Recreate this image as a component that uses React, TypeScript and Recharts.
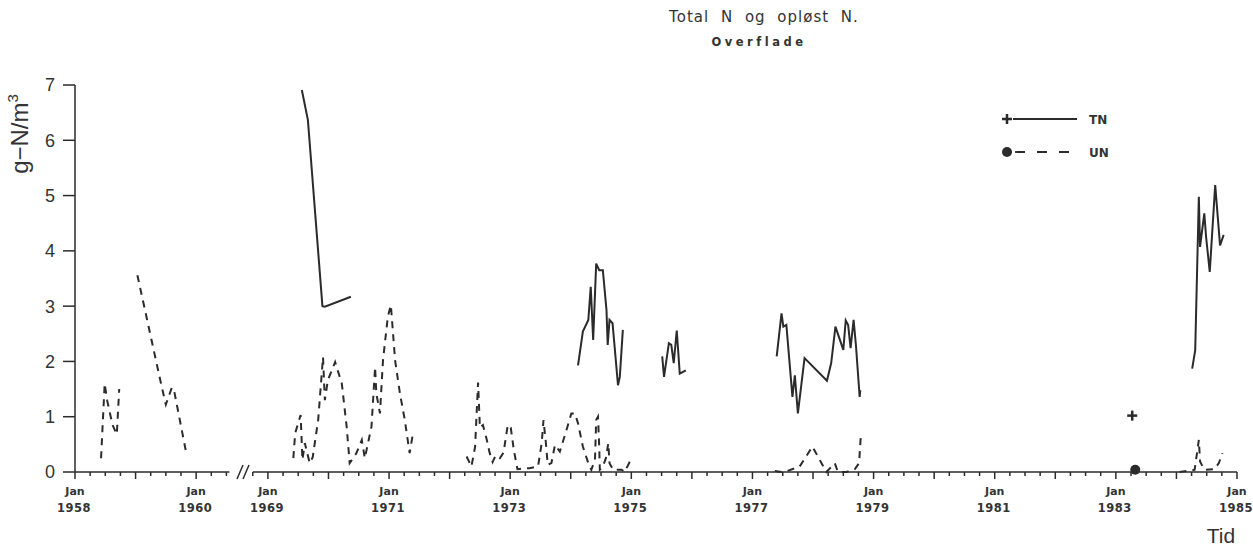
import React from 'react';
import {
  ComposedChart,
  Line,
  Scatter,
  XAxis,
  YAxis,
  ReferenceLine,
} from 'recharts';

// Time is stored as decimal years. The axis is broken between 1960 and 1968,
// so years are shifted onto one continuous axis coordinate (u).
const EARLY_START = 1958;
const LATE_SHIFT = 1965.815;
const toU = (t: number) => (t < 1965 ? t - EARLY_START : t - LATE_SHIFT);
const fromU = (u: number) => (u < 2.8 ? u + EARLY_START : u + LATE_SHIFT);

// axis pieces [from, to] in years
const axisPieces: [number, number][] = [
  [1958, 1960.55],
  [1968.75, 1985],
];
const tickPieces: [number, number][] = [
  [1958, 1960.5],
  [1968.75, 1985],
];
const labelYears = [1958, 1960, 1969, 1971, 1973, 1975, 1977, 1979, 1981, 1983, 1985];
const yTicks = [0, 1, 2, 3, 4, 5, 6, 7];

// TN (total N), g-N/m3, one array per continuous run
const tn1969: [number, number][] = [
  [1969.56, 6.91], [1969.66, 6.37], [1969.9, 3.0], [1969.94, 2.99], [1970.37, 3.17],
];
const tn1974: [number, number][] = [
  [1974.12, 1.93], [1974.2, 2.54], [1974.29, 2.75], [1974.33, 3.35], [1974.37, 2.39],
  [1974.42, 3.77], [1974.47, 3.65], [1974.53, 3.65], [1974.59, 2.93], [1974.61, 2.3],
  [1974.64, 2.75], [1974.69, 2.69], [1974.78, 1.57], [1974.81, 1.72], [1974.86, 2.57],
];
const tn1975: [number, number][] = [
  [1975.51, 2.09], [1975.54, 1.72], [1975.62, 2.33], [1975.66, 2.3], [1975.7, 1.97],
  [1975.75, 2.56], [1975.8, 1.78], [1975.9, 1.84],
];
const tn1977: [number, number][] = [
  [1977.4, 2.09], [1977.48, 2.87], [1977.51, 2.63], [1977.56, 2.66], [1977.66, 1.36],
  [1977.7, 1.75], [1977.75, 1.06], [1977.86, 2.06], [1978.23, 1.65], [1978.3, 1.97],
  [1978.37, 2.63], [1978.5, 2.21], [1978.54, 2.74], [1978.58, 2.66], [1978.62, 2.24],
  [1978.67, 2.75], [1978.71, 2.27], [1978.77, 1.36], [1978.78, 1.48],
];
const tn1984: [number, number][] = [
  [1984.26, 1.87], [1984.31, 2.2], [1984.37, 4.98], [1984.39, 4.07], [1984.46, 4.68],
  [1984.49, 4.25], [1984.55, 3.62], [1984.64, 5.19], [1984.72, 4.1], [1984.78, 4.29],
];
const tnSingle: [number, number][] = [[1983.27, 1.02]];

// UN (dissolved N), g-N/m3
const un1958: [number, number][] = [
  [1958.43, 0.25], [1958.49, 1.6], [1958.53, 1.3], [1958.62, 0.85], [1958.69, 0.68],
  [1958.73, 1.5],
];
const un1959: [number, number][] = [
  [1959.03, 3.56], [1959.43, 1.55], [1959.5, 1.22], [1959.6, 1.53], [1959.64, 1.45],
  [1959.83, 0.38],
];
const un1969: [number, number][] = [
  [1969.42, 0.25], [1969.45, 0.7], [1969.54, 1.03], [1969.57, 0.22], [1969.61, 0.52],
  [1969.69, 0.16], [1969.74, 0.27], [1969.83, 0.94], [1969.91, 2.08], [1969.94, 1.3],
  [1969.99, 1.66], [1970.11, 1.99], [1970.22, 1.6], [1970.3, 0.82], [1970.35, 0.16],
  [1970.46, 0.34], [1970.55, 0.58], [1970.6, 0.25], [1970.71, 0.82], [1970.77, 1.9],
  [1970.79, 1.42], [1970.85, 1.06], [1970.9, 2.02], [1970.98, 2.81], [1971.03, 3.02],
  [1971.1, 2.02], [1971.18, 1.42], [1971.26, 0.94], [1971.34, 0.34], [1971.39, 0.67],
];
const un1972: [number, number][] = [
  [1972.28, 0.28], [1972.36, 0.1], [1972.42, 0.45], [1972.47, 1.62], [1972.5, 0.8],
  [1972.55, 0.85], [1972.61, 0.6], [1972.66, 0.35], [1972.71, 0.18], [1972.76, 0.3],
  [1972.83, 0.25], [1972.89, 0.35], [1972.96, 0.85], [1973.01, 0.8], [1973.06, 0.4],
  [1973.12, 0.05], [1973.24, 0.07], [1973.32, 0.07], [1973.46, 0.1], [1973.52, 0.52],
  [1973.55, 0.94], [1973.59, 0.52], [1973.62, 0.13], [1973.68, 0.16], [1973.74, 0.49],
  [1973.82, 0.37], [1973.93, 0.76], [1974.01, 1.06], [1974.07, 1.06], [1974.12, 0.88],
  [1974.2, 0.46], [1974.29, 0.16], [1974.34, 0.04], [1974.4, 0.22], [1974.42, 0.94],
  [1974.45, 1.0], [1974.47, 0.46], [1974.48, 0.04], [1974.53, 0.1], [1974.58, 0.25],
  [1974.62, 0.52], [1974.64, 0.16], [1974.7, 0.04], [1974.84, 0.04], [1974.89, 0.0],
  [1974.99, 0.22],
];
const un1977: [number, number][] = [
  [1977.37, 0.02], [1977.48, 0.0], [1977.53, 0.0], [1977.78, 0.1], [1977.99, 0.46],
  [1978.11, 0.22], [1978.22, 0.0], [1978.36, 0.16], [1978.41, 0.0], [1978.55, 0.0],
  [1978.69, 0.05], [1978.76, 0.16], [1978.79, 0.67],
];
const un1984: [number, number][] = [
  [1984.05, 0.0], [1984.3, 0.04], [1984.32, 0.19], [1984.37, 0.58], [1984.39, 0.19],
  [1984.46, 0.04], [1984.63, 0.05], [1984.7, 0.16], [1984.76, 0.34],
];
const unSingle: [number, number][] = [[1983.32, 0.04]];

const INK = '#2b2b2b';
const U_END = toU(1985);

type Row = { u: number; v: number | null };

// join runs, with a null row between them so the line breaks
function joinRuns(runs: [number, number][][]): Row[] {
  const rows: Row[] = [];
  runs.forEach((run, i) => {
    if (i > 0) {
      const prev = runs[i - 1];
      const gapU = (toU(prev[prev.length - 1][0]) + toU(run[0][0])) / 2;
      rows.push({ u: gapU, v: null });
    }
    run.forEach(([t, v]) => rows.push({ u: toU(t), v }));
  });
  return rows;
}

const tnRows = joinRuns([tn1969, tn1974, tn1975, tn1977, tn1984]);
const unRows = joinRuns([un1958, un1959, un1969, un1972, un1977, un1984]);
const tnPoints = tnSingle.map(([t, v]) => ({ u: toU(t), v }));
const unPoints = unSingle.map(([t, v]) => ({ u: toU(t), v }));

const xTicks: number[] = [];
tickPieces.forEach(([a, b]) => {
  for (let t = a; t <= b + 1e-6; t += 0.25) xTicks.push(toU(t));
});

const TimeTick = (props: any) => {
  const { x, y, payload } = props;
  const year = Math.round(fromU(payload.value) * 4) / 4;
  const isJan = Math.abs(year - Math.round(year)) < 1e-6;
  const labelled = isJan && labelYears.includes(Math.round(year));
  return (
    <g>
      <line x1={x} x2={x} y1={y} y2={y + (isJan ? 7 : 4)} stroke={INK} strokeWidth={1.5} />
      {labelled && (
        <text
          x={x}
          y={y + 23}
          textAnchor="middle"
          fontFamily="DejaVu Sans"
          fontWeight="bold"
          fontSize={11}
          fill="#333"
        >
          Jan
        </text>
      )}
      {labelled && (
        <text
          x={x - 1}
          y={y + 40}
          textAnchor="middle"
          fontFamily="DejaVu Sans"
          fontWeight="bold"
          fontSize={11.5}
          letterSpacing={0.5}
          fill="#333"
        >
          {Math.round(year)}
        </text>
      )}
    </g>
  );
};

const PlusMark = (props: any) => {
  const { cx, cy } = props;
  return (
    <g stroke={INK} strokeWidth={2.5}>
      <line x1={cx - 5} x2={cx + 5} y1={cy} y2={cy} />
      <line x1={cx} x2={cx} y1={cy - 5} y2={cy + 5} />
    </g>
  );
};

const DotMark = (props: any) => {
  const { cx, cy } = props;
  return <circle cx={cx} cy={cy} r={5} fill={INK} />;
};

export default function App() {
  return (
    <div style={{ position: 'absolute', left: 0, top: 0, width: 1253, height: 547, background: '#fff' }}>
      <ComposedChart width={1253} height={547} margin={{ top: 85, right: 16, bottom: 0, left: 0 }}>
        <XAxis
          type="number"
          dataKey="u"
          domain={[0, U_END]}
          ticks={xTicks}
          interval={0}
          tick={<TimeTick />}
          tickLine={false}
          axisLine={false}
          tickSize={0}
          tickMargin={0}
          height={75}
          allowDataOverflow
        />
        <YAxis
          type="number"
          domain={[0, 7]}
          ticks={yTicks}
          width={75}
          interval={0}
          axisLine={{ stroke: INK, strokeWidth: 1.5 }}
          tickLine={{ stroke: INK, strokeWidth: 1.5 }}
          tickSize={12}
          tickMargin={8}
          tick={{ fill: '#333', fontSize: 18, fontFamily: 'Liberation Sans' }}
        />

        {/* broken time axis */}
        {axisPieces.map(([a, b]) => (
          <ReferenceLine
            key={a}
            segment={[
              { x: toU(a), y: 0 },
              { x: toU(b), y: 0 },
            ]}
            stroke={INK}
            strokeWidth={1.5}
            ifOverflow="visible"
          />
        ))}

        <Line
          data={unRows}
          dataKey="v"
          type="linear"
          stroke={INK}
          strokeWidth={2}
          strokeDasharray="7 6"
          dot={false}
          activeDot={false}
          connectNulls={false}
          isAnimationActive={false}
        />
        <Line
          data={tnRows}
          dataKey="v"
          type="linear"
          stroke={INK}
          strokeWidth={2}
          dot={false}
          activeDot={false}
          connectNulls={false}
          isAnimationActive={false}
        />
        <Scatter data={tnPoints} dataKey="v" shape={<PlusMark />} isAnimationActive={false} />
        <Scatter data={unPoints} dataKey="v" shape={<DotMark />} isAnimationActive={false} />
      </ComposedChart>

      {/* title, legend, axis names and the axis break */}
      <svg
        width={1253}
        height={547}
        style={{ position: 'absolute', left: 0, top: 0, pointerEvents: 'none' }}
      >
        <text x={764} y={22} textAnchor="middle" fontFamily="DejaVu Sans" fontWeight={500} fontSize={15} letterSpacing={1} wordSpacing={6} fill="#333">
          Total N og opløst N.
        </text>
        <text x={759} y={46} textAnchor="middle" fontFamily="DejaVu Sans" fontWeight="bold" fontSize={11.5} letterSpacing={3.5} fill="#333">
          Overflade
        </text>

        <g stroke={INK} strokeWidth={2.5}>
          <line x1={1002} x2={1012} y1={119} y2={119} />
          <line x1={1007} x2={1007} y1={114} y2={124} />
        </g>
        <line x1={1013} x2={1077} y1={119} y2={119} stroke={INK} strokeWidth={1.8} />
        <text x={1089} y={124} fontFamily="DejaVu Sans" fontWeight="bold" fontSize={12} fill="#333">TN</text>
        <circle cx={1007} cy={152} r={5} fill={INK} />
        <line x1={1015} x2={1069} y1={152} y2={152} stroke={INK} strokeWidth={1.8} strokeDasharray="10 12" />
        <text x={1089} y={157} fontFamily="DejaVu Sans" fontWeight="bold" fontSize={12} fill="#333">UN</text>

        <text transform="translate(28,134) rotate(-90)" textAnchor="middle" fontFamily="Liberation Sans" fontSize={24} fill="#333">
          g−N/m<tspan dy={-10} fontSize={15}>3</tspan>
        </text>

        <text x={1221} y={543} textAnchor="middle" fontFamily="Liberation Sans" fontSize={21} fill="#333">Tid</text>

        <g stroke={INK} strokeWidth={1.5}>
          <line x1={237} x2={243} y1={479} y2={465} />
          <line x1={243} x2={249} y1={479} y2={465} />
        </g>
      </svg>
    </div>
  );
}
